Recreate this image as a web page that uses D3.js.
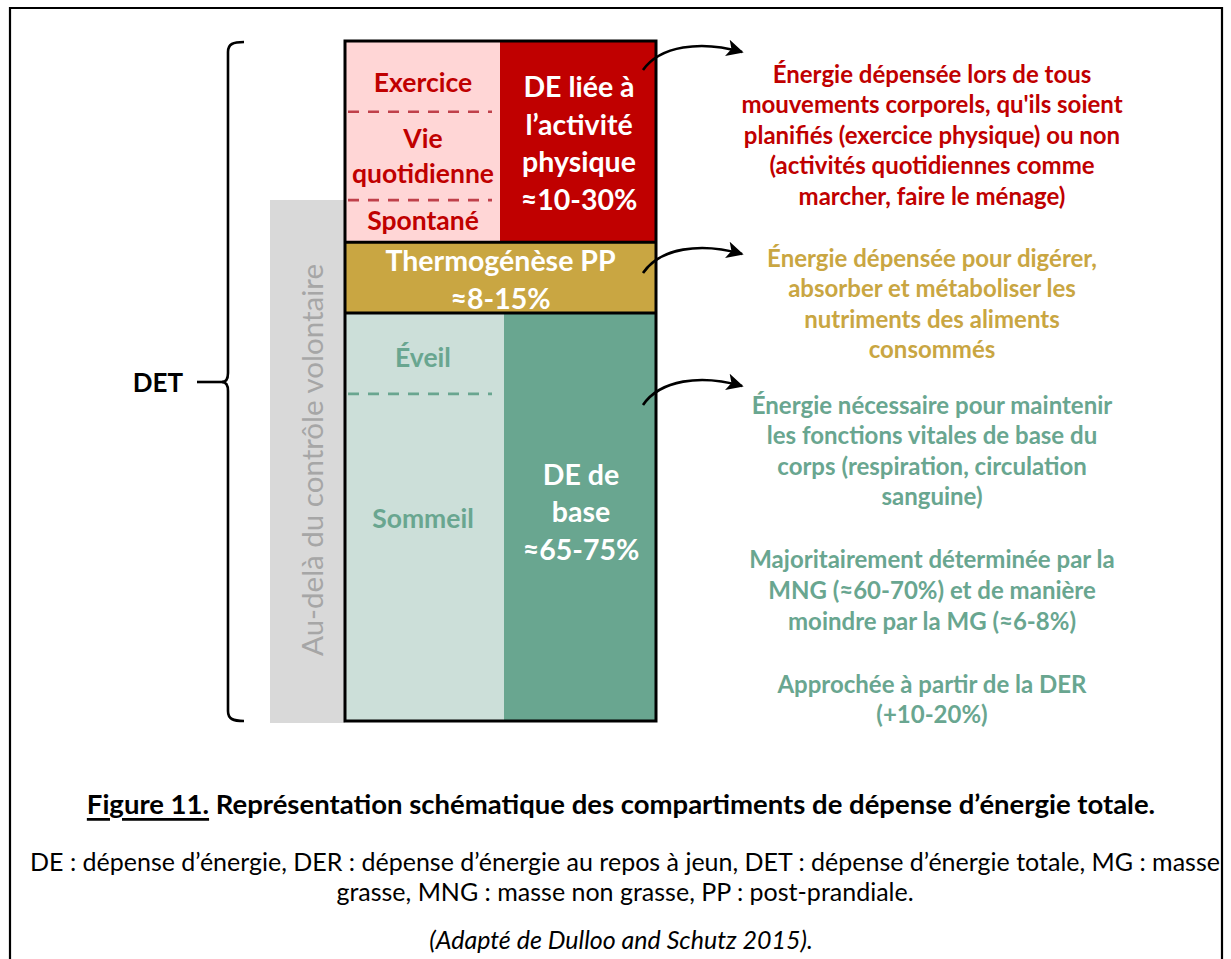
<!DOCTYPE html>
<html>

<head>
  <meta charset="utf-8">
  <script src="https://d3js.org/d3.v7.min.js"></script>
  <style>
    body {
      margin: 0;
      background: #fff;
      font-family: Lato, "Open Sans", sans-serif;
    }
  </style>
</head>

<body>
  <div id="chart"></div>
  <script>
    // blocks of the stacked bar, top to bottom (share of the bar height)
    var blockNames = ["activite", "thermo", "base"];
    var blockShare = [29.6, 10.4, 60];
    var blockLabels = [
      ["DE liée à", "l’activité", "physique", "≈10-30%"],
      ["Thermogénèse PP", "≈8-15%"],
      ["DE de", "base", "≈65-75%"]
    ];
    var blockColor = ["#c00000", "#c9a642", "#69a690"];
    var blockLight = ["#ffd6d6", null, "#ccdfd9"];
    var textColor = ["#c00000", "#c9a642", "#69a690"];

    // sub-compartments in the left column
    var subLabels = [["Exercice"], ["Vie", "quotidienne"], ["Spontané"], ["Éveil"], ["Sommeil"]];
    var subBlock = [0, 0, 0, 2, 2];
    var subAt = [6.0, 16.8, 26.3, 46.5, 70.1];
    var dividerAt = [10.4, 23.4, 51.9];
    var dividerBlock = [0, 0, 2];

    var descriptions = [
      [["Énergie dépensée lors de tous", "mouvements corporels, qu'ils soient",
        "planifiés (exercice physique) ou non", "(activités quotidiennes comme",
        "marcher, faire le ménage)"]],
      [["Énergie dépensée pour digérer,", "absorber et métaboliser les",
        "nutriments des aliments", "consommés"]],
      [["Énergie nécessaire pour maintenir", "les fonctions vitales de base du",
        "corps (respiration, circulation", "sanguine)"],
       ["Majoritairement déterminée par la", "MNG (≈60-70%) et de manière",
        "moindre par la MG (≈6-8%)"],
       ["Approchée à partir de la DER", "(+10-20%)"]]
    ];

    var captionTitle = ["Figure 11.", " Représentation schématique des compartiments de dépense d’énergie totale."];
    var captionLines = [
      "DE : dépense d’énergie, DER : dépense d’énergie au repos à jeun, DET : dépense d’énergie totale, MG : masse",
      "grasse, MNG : masse non grasse, PP : post-prandiale."
    ];
    var captionSource = "(Adapté de Dulloo and Schutz 2015).";

    // layout
    var W = 1231, H = 959;
    var bar = { x0: 345, x1: 656, splitTop: 500, splitBottom: 504, y0: 41, y1: 721 };
    var arrowFrom = [70, 273, 405];
    var arrowTo = [52, 254, 386];
    var descTop = [73, 257, 404];
    var descLine = 30.6, descGap = 32.5;

    var svg = d3.select("#chart").append("svg")
      .attr("width", W).attr("height", H);

    var y = d3.scaleLinear().domain([0, 100]).range([bar.y0, bar.y1]);
    var bounds = d3.cumsum([0].concat(blockShare));

    // outer frame
    svg.append("path")
      .attr("d", "M10," + (H + 5) + "V8H1222V" + (H + 5))
      .attr("fill", "none").attr("stroke", "#000").attr("stroke-width", 2.2);

    // grey band
    svg.append("rect")
      .attr("x", 270).attr("y", 200).attr("width", bar.x0 - 270).attr("height", 723 - 200)
      .attr("fill", "#d9d9d9");
    svg.append("text")
      .attr("transform", "translate(311,460) rotate(-90)")
      .attr("text-anchor", "middle").attr("dominant-baseline", "central")
      .attr("font-size", 29.5).attr("fill", "#a6a6a6")
      .text("Au-delà du contrôle volontaire");

    // blocks
    var g = svg.append("g");
    blockNames.forEach(function (name, i) {
      var top = y(bounds[i]), bot = y(bounds[i + 1]);
      var split = i === 0 ? bar.splitTop : bar.splitBottom;
      if (blockLight[i]) {
        g.append("rect").attr("x", bar.x0).attr("y", top)
          .attr("width", split - bar.x0).attr("height", bot - top).attr("fill", blockLight[i]);
        g.append("rect").attr("x", split).attr("y", top)
          .attr("width", bar.x1 - split).attr("height", bot - top).attr("fill", blockColor[i]);
      } else {
        g.append("rect").attr("x", bar.x0).attr("y", top)
          .attr("width", bar.x1 - bar.x0).attr("height", bot - top).attr("fill", blockColor[i]);
      }
      var cx = blockLight[i] ? (split + bar.x1) / 2 + 1 : (bar.x0 + bar.x1) / 2;
      var lh = blockLight[i] ? 37.5 : 38;
      var cy = (top + bot) / 2 + (i === 2 ? -6 : 1);
      var lines = blockLabels[i];
      g.selectAll(null).data(lines).enter().append("text")
        .attr("x", cx)
        .attr("y", function (d, k) { return cy + (k - (lines.length - 1) / 2) * lh; })
        .attr("text-anchor", "middle").attr("dominant-baseline", "central")
        .attr("font-size", 28.5).attr("font-weight", 700).attr("fill", "#fff")
        .text(function (d) { return d; });
    });

    // dashed dividers
    dividerAt.forEach(function (v, i) {
      g.append("line")
        .attr("x1", 348).attr("x2", 492).attr("y1", y(v)).attr("y2", y(v))
        .attr("stroke", i < 2 ? "#c0404a" : textColor[dividerBlock[i]])
        .attr("stroke-width", 2.6).attr("stroke-dasharray", "11,9");
    });

    // sub labels
    subLabels.forEach(function (lines, i) {
      g.selectAll(null).data(lines).enter().append("text")
        .attr("x", 423)
        .attr("y", function (d, k) { return y(subAt[i]) + (k - (lines.length - 1) / 2) * 35; })
        .attr("text-anchor", "middle").attr("dominant-baseline", "central")
        .attr("font-size", 26.5).attr("font-weight", 700).attr("fill", textColor[subBlock[i]])
        .text(function (d) { return d; });
    });

    // outlines
    g.append("rect").attr("x", bar.x0).attr("y", bar.y0)
      .attr("width", bar.x1 - bar.x0).attr("height", bar.y1 - bar.y0)
      .attr("fill", "none").attr("stroke", "#000").attr("stroke-width", 3);
    [bounds[1], bounds[2]].forEach(function (v) {
      g.append("line").attr("x1", bar.x0).attr("x2", bar.x1).attr("y1", y(v)).attr("y2", y(v))
        .attr("stroke", "#000").attr("stroke-width", 3);
    });

    // brace + DET
    var mid = 382;
    svg.append("path")
      .attr("d", "M244," + (bar.y0 + 1) + "C233," + (bar.y0 + 1) + " 228," + (bar.y0 + 3) + " 228," + (bar.y0 + 11) +
        "L228," + (mid - 9) + "C228," + (mid - 3) + " 226," + mid + " 222," + mid +
        "C226," + mid + " 228," + (mid + 3) + " 228," + (mid + 9) +
        "L228," + (bar.y1 - 10) + "C228," + (bar.y1 - 2) + " 233," + bar.y1 + " 244," + bar.y1)
      .attr("fill", "none").attr("stroke", "#000").attr("stroke-width", 2.6);
    svg.append("line").attr("x1", 197).attr("x2", 224).attr("y1", mid).attr("y2", mid)
      .attr("stroke", "#000").attr("stroke-width", 2.6);
    svg.append("text").attr("x", 158).attr("y", mid)
      .attr("text-anchor", "middle").attr("dominant-baseline", "central")
      .attr("font-size", 26).attr("font-weight", 700).attr("fill", "#000")
      .text("DET");

    // arrows
    svg.append("defs").append("marker")
      .attr("id", "head").attr("viewBox", "0 0 10 10").attr("refX", 9).attr("refY", 5)
      .attr("markerWidth", 6.5).attr("markerHeight", 6.5).attr("orient", "auto")
      .append("path").attr("d", "M0,0L10,5L0,10L2.5,5Z").attr("fill", "#000");
    arrowFrom.forEach(function (a, i) {
      var b = arrowTo[i];
      svg.append("path")
        .attr("d", "M643," + a + "C660," + (b - 6) + " 700," + (b - 12) + " 742," + b)
        .attr("fill", "none").attr("stroke", "#000").attr("stroke-width", 2.6)
        .attr("marker-end", "url(#head)");
    });

    // descriptions
    descriptions.forEach(function (paras, i) {
      var yy = descTop[i];
      paras.forEach(function (lines, p) {
        if (p > 0) yy += descGap;
        lines.forEach(function (t) {
          svg.append("text").attr("x", 932).attr("y", yy)
            .attr("text-anchor", "middle").attr("dominant-baseline", "central")
            .attr("font-size", 24).attr("font-weight", 700).attr("fill", textColor[i])
            .text(t);
          yy += descLine;
        });
      });
    });

    // caption
    var cap = svg.append("text").attr("x", 621).attr("y", 803)
      .attr("text-anchor", "middle").attr("dominant-baseline", "central")
      .attr("font-size", 27.5).attr("font-weight", 700).attr("fill", "#000");
    cap.append("tspan").attr("text-decoration", "underline").text(captionTitle[0]);
    cap.append("tspan").text(captionTitle[1]);

    captionLines.forEach(function (t, i) {
      svg.append("text").attr("x", 625).attr("y", 861 + i * 30)
        .attr("text-anchor", "middle").attr("dominant-baseline", "central")
        .attr("font-size", 25).attr("fill", "#000")
        .text(t);
    });
    svg.append("text").attr("x", 621).attr("y", 939)
      .attr("text-anchor", "middle").attr("dominant-baseline", "central")
      .attr("font-size", 25).attr("font-style", "italic").attr("fill", "#000")
      .text(captionSource);
  </script>
</body>

</html>
